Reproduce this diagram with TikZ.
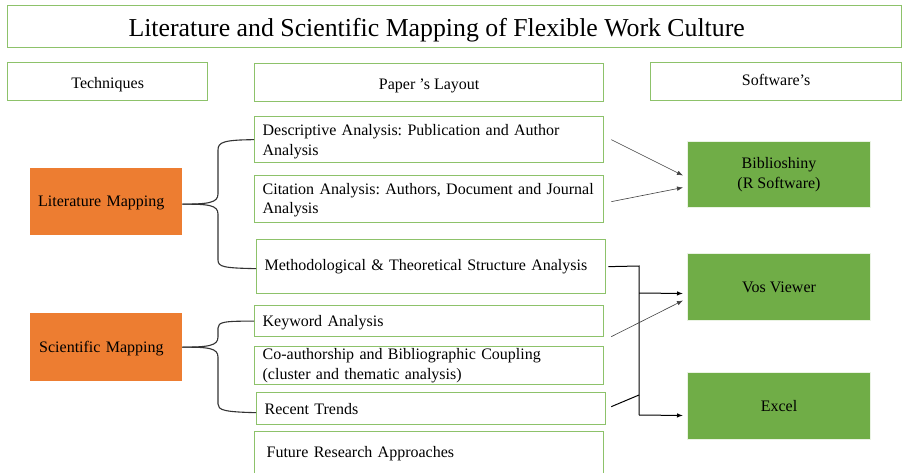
\documentclass[tikz,border=0pt]{standalone}
\usepackage{fontspec}
\setmainfont{Liberation Serif}
\usetikzlibrary{arrows.meta}
\definecolor{leaf}{HTML}{70AD47}
\definecolor{edge}{HTML}{8DC26A}
\definecolor{tang}{HTML}{ED7D31}
\tikzset{
  body/.style={font=\fontsize{16}{19.5}\selectfont\frenchspacing},
  framebox/.style={draw=edge, line width=1.3pt, rectangle, anchor=north west, inner sep=0pt, body},
  itembox/.style={framebox, align=left, minimum width=349pt, text width=349pt},
  techbox/.style={fill=tang, draw=none, rectangle, anchor=north west, inner sep=0pt, align=left, body,
    minimum width=152pt, text width=152pt, text depth=0pt},
  softbox/.style={fill=leaf, draw=white!85!leaf, line width=1pt, rectangle, anchor=north west, inner sep=0pt, align=center, body,
    minimum width=183pt},
  brace/.style={draw=black!80, line width=1.1pt},
  thinarrow/.style={draw=black!75, line width=0.6pt, -{Latex[length=6pt,width=4.5pt]}},
  elbow/.style={draw=black, line width=1pt},
  elbowarrow/.style={elbow, -{Latex[length=6pt,width=4.5pt]}}
}
\begin{document}
\begin{tikzpicture}[x=1pt,y=-1pt]
\useasboundingbox (0,0) rectangle (902,473);

% header row
\node[framebox, minimum width=894pt, minimum height=42pt, font=\fontsize{25.8}{30}\selectfont,
  text height=19pt, text depth=0pt] (title) at (7,5) {Literature and Scientific Mapping of Flexible Work Culture\hspace*{36pt}};
\node[framebox, minimum width=200pt, minimum height=38pt, text height=13pt, text depth=0pt] (tech) at (7,62) {Techniques};
\node[framebox, minimum width=349pt, minimum height=38pt, text height=13pt, text depth=0pt] (layout) at (254,63) {Paper ’s Layout};
\node[framebox, minimum width=251pt, minimum height=38pt, text height=11pt, text depth=3pt] (soft) at (650,62) {Software’s};

% techniques
\node[techbox, minimum height=67pt] (lit) at (30,168) {\hspace*{8pt}Literature Mapping};
\node[techbox, minimum height=68pt] (sci) at (30,313) {\hspace*{9pt}Scientific Mapping};

% paper layout items
\node[itembox, minimum height=46pt, text depth=19pt] (desc) at (254,116) {\hspace*{8pt}Descriptive Analysis: Publication and Author\\\hspace*{8pt}Analysis};
\node[itembox, minimum height=47pt, text depth=20.5pt] (cit) at (254,175) {\hspace*{8pt}Citation Analysis: Authors, Document and Journal\\\hspace*{8pt}Analysis};
\node[itembox, minimum height=54pt] (meth) at (256,239) {\hspace*{8pt}Methodological \& Theoretical Structure Analysis};
\node[itembox, minimum height=31pt, text depth=0pt] (key) at (254,305) {\hspace*{8pt}Keyword Analysis};
\node[itembox, minimum height=38pt] (coauth) at (254,346) {\hspace*{8pt}Co-authorship and Bibliographic Coupling\\\hspace*{8pt}(cluster and thematic analysis)};
\node[itembox, minimum height=32pt] (recent) at (256,392) {\hspace*{8pt}Recent Trends};
\node[itembox, minimum height=44pt] (future) at (254,431) {\hspace*{12pt}Future Research Approaches};

% software
\node[softbox, minimum height=66pt] (bib) at (687,141) {Biblioshiny\\(R Software)};
\node[softbox, minimum height=67pt] (vos) at (687,253) {Vos Viewer};
\node[softbox, minimum height=67pt] (excel) at (687,372) {Excel};

% braces grouping the layout items
\draw[brace] (lit.east) ++(0,2.5) coordinate (littip)
  .. controls (208,204) and (218,203) .. (218,194) -- (218,150)
  .. controls (218,142) and (224,140) .. (desc.west);
\draw[brace] (littip)
  .. controls (208,204) and (218,205) .. (218,214) -- (218,260)
  .. controls (218,267) and (224,268) .. ([yshift=-2pt]meth.west);
\draw[brace] (sci.east)
  .. controls (208,347) and (218,346) .. (218,337) -- (218,328)
  .. controls (218,322) and (224,321) .. (key.west);
\draw[brace] (sci.east)
  .. controls (208,347) and (218,348) .. (218,357) -- (218,404)
  .. controls (218,410) and (224,412) .. ([yshift=-4pt]recent.west);

% arrows to Biblioshiny
\draw[thinarrow] ([xshift=7pt]desc.east) -- ([shift={(-4pt,-1pt)}]bib.west);
\draw[thinarrow] ([shift={(7pt,-2.5pt)}]cit.east) -- ([shift={(-4pt,-13pt)}]bib.west);

% arrows to Vos Viewer and Excel
\coordinate (jtop) at (639,266);
\coordinate (jvos) at (639,293);
\coordinate (jrec) at (639,395);
\coordinate (jbot) at (639,415);
\draw[elbow] ([xshift=2pt]meth.east) -- (jtop) -- (jbot);
\draw[elbowarrow] (jbot) -- ([shift={(-4pt,-9.5pt)}]excel.west);
\draw[elbowarrow] (jvos) -- ([shift={(-4pt,-6.5pt)}]vos.west);
\draw[thinarrow] ([shift={(7pt,-15.5pt)}]key.east) -- ([shift={(-4pt,-13.5pt)}]vos.west);
\draw[elbow] ([shift={(5pt,2pt)}]recent.east) -- (jrec);
\end{tikzpicture}
\end{document}
